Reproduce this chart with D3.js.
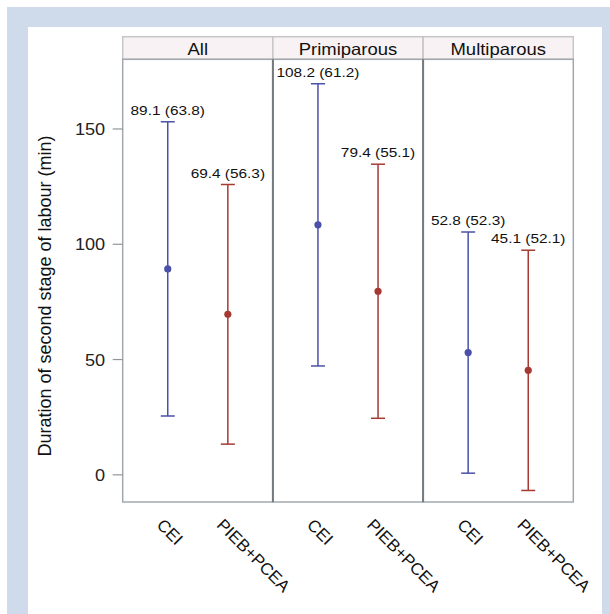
<!DOCTYPE html>
<html><head><meta charset="utf-8">
<script src="https://cdn.jsdelivr.net/npm/d3@7"></script>
<style>body{margin:0;background:#fff}svg{display:block}text{font-family:"Liberation Sans",Arial,sans-serif}</style>
</head><body><div id="chart"></div>
<script>
const groups = ["All", "Primiparous", "Multiparous"];
const treatments = ["CEI", "PIEB+PCEA"];
const meanCEI = [89.1, 108.2, 52.8];
const sdCEI = [63.8, 61.2, 52.3];
const meanPIEB = [69.4, 79.4, 45.1];
const sdPIEB = [56.3, 55.1, 52.1];
const yTicks = [0, 50, 100, 150];
const yTitle = "Duration of second stage of labour (min)";
const colors = ["#4b50a8", "#a63a33"];

const rows = [];
groups.forEach((g, i) => {
  rows.push({group: g, trt: treatments[0], mean: meanCEI[i], sd: sdCEI[i], c: 0});
  rows.push({group: g, trt: treatments[1], mean: meanPIEB[i], sd: sdPIEB[i], c: 1});
});

const svg = d3.select("#chart").append("svg").attr("width", 610).attr("height", 614);
svg.append("rect").attr("x", 7).attr("y", 7).attr("width", 603).attr("height", 607).attr("fill", "#cfdaeb");
svg.append("rect").attr("x", 28).attr("y", 27).attr("width", 574).attr("height", 587).attr("fill", "#fff");

const L = 122.7, R = 573.3, T = 59.3, B = 502, HT = 36.7;
const xPanel = d3.scaleBand().domain(groups).range([L, R]);
const xIn = d3.scalePoint().domain(treatments).range([0, xPanel.bandwidth()]).padding(0.75);
const y = d3.scaleLinear().domain([-12, 180]).range([B, T]);
const px = d => xPanel(d.group) + xIn(d.trt);

// header strips
const hdr = svg.append("g");
hdr.selectAll("rect").data(groups).join("rect")
  .attr("x", g => xPanel(g)).attr("y", HT).attr("width", xPanel.bandwidth()).attr("height", T - HT)
  .attr("fill", "#f8f2f5").attr("stroke", "#c6c6c6").attr("stroke-width", 1.5);
hdr.selectAll("text").data(groups).join("text")
  .attr("transform", g => `translate(${xPanel(g) + xPanel.bandwidth() / 2},${55}) scale(1.12,1)`)
  .attr("text-anchor", "middle").attr("font-size", 16.5).attr("fill", "#111").text(g => g);

// panel frames
svg.append("g").selectAll("rect").data(groups).join("rect")
  .attr("x", g => xPanel(g)).attr("y", T).attr("width", xPanel.bandwidth()).attr("height", B - T)
  .attr("fill", "none").attr("stroke", "#a2a9ae").attr("stroke-width", 1.5);
svg.append("g").selectAll("line").data(groups.slice(1)).join("line")
  .attr("x1", g => xPanel(g)).attr("x2", g => xPanel(g)).attr("y1", T).attr("y2", B)
  .attr("stroke", "#737b80").attr("stroke-width", 2);

// y axis
const ax = svg.append("g").attr("transform", `translate(${L},0)`)
  .call(d3.axisLeft(y).tickValues(yTicks).tickSize(10).tickPadding(8).tickFormat(d3.format("d")));
ax.select(".domain").remove();
ax.selectAll(".tick line").attr("stroke", "#8f979c").attr("stroke-width", 1.2);
ax.selectAll(".tick text")
  .attr("x", null).attr("dy", null)
  .attr("transform", "translate(-17.5,6) scale(1.1,1)")
  .attr("font-size", 16.5).attr("font-family", "'Liberation Sans',Arial,sans-serif").attr("fill", "#222");

svg.append("text")
  .attr("transform", `translate(51,${296}) rotate(-90)`)
  .attr("text-anchor", "middle").attr("font-size", 18).attr("fill", "#111").text(yTitle);

// error bars
const marks = svg.append("g");
marks.selectAll(".bar").data(rows).join("line")
  .attr("x1", px).attr("x2", px).attr("y1", d => y(d.mean - d.sd)).attr("y2", d => y(d.mean + d.sd))
  .attr("stroke", d => colors[d.c]).attr("stroke-width", 1.5);
marks.selectAll(".capT").data(rows).join("line")
  .attr("x1", d => px(d) - 7).attr("x2", d => px(d) + 7).attr("y1", d => y(d.mean + d.sd)).attr("y2", d => y(d.mean + d.sd))
  .attr("stroke", d => colors[d.c]).attr("stroke-width", 1.5);
marks.selectAll(".capB").data(rows).join("line")
  .attr("x1", d => px(d) - 7).attr("x2", d => px(d) + 7).attr("y1", d => y(d.mean - d.sd)).attr("y2", d => y(d.mean - d.sd))
  .attr("stroke", d => colors[d.c]).attr("stroke-width", 1.5);
marks.selectAll("circle").data(rows).join("circle")
  .attr("cx", px).attr("cy", d => y(d.mean)).attr("r", 3.6).attr("fill", d => colors[d.c]);

// value labels
svg.append("g").selectAll("text").data(rows).join("text")
  .attr("transform", d => `translate(${px(d)},${y(d.mean + d.sd) - 7}) scale(1.14,1)`)
  .attr("text-anchor", "middle").attr("font-size", 13.5).attr("fill", "#111")
  .text(d => `${d.mean.toFixed(1)} (${d.sd.toFixed(1)})`);

// x tick labels (rotated)
svg.append("g").selectAll("text").data(rows).join("text")
  .attr("transform", d => `translate(${px(d) - 12},${526}) rotate(45)`)
  .attr("text-anchor", "start").attr("font-size", 17).attr("fill", "#111").text(d => d.trt);
</script></body></html>
